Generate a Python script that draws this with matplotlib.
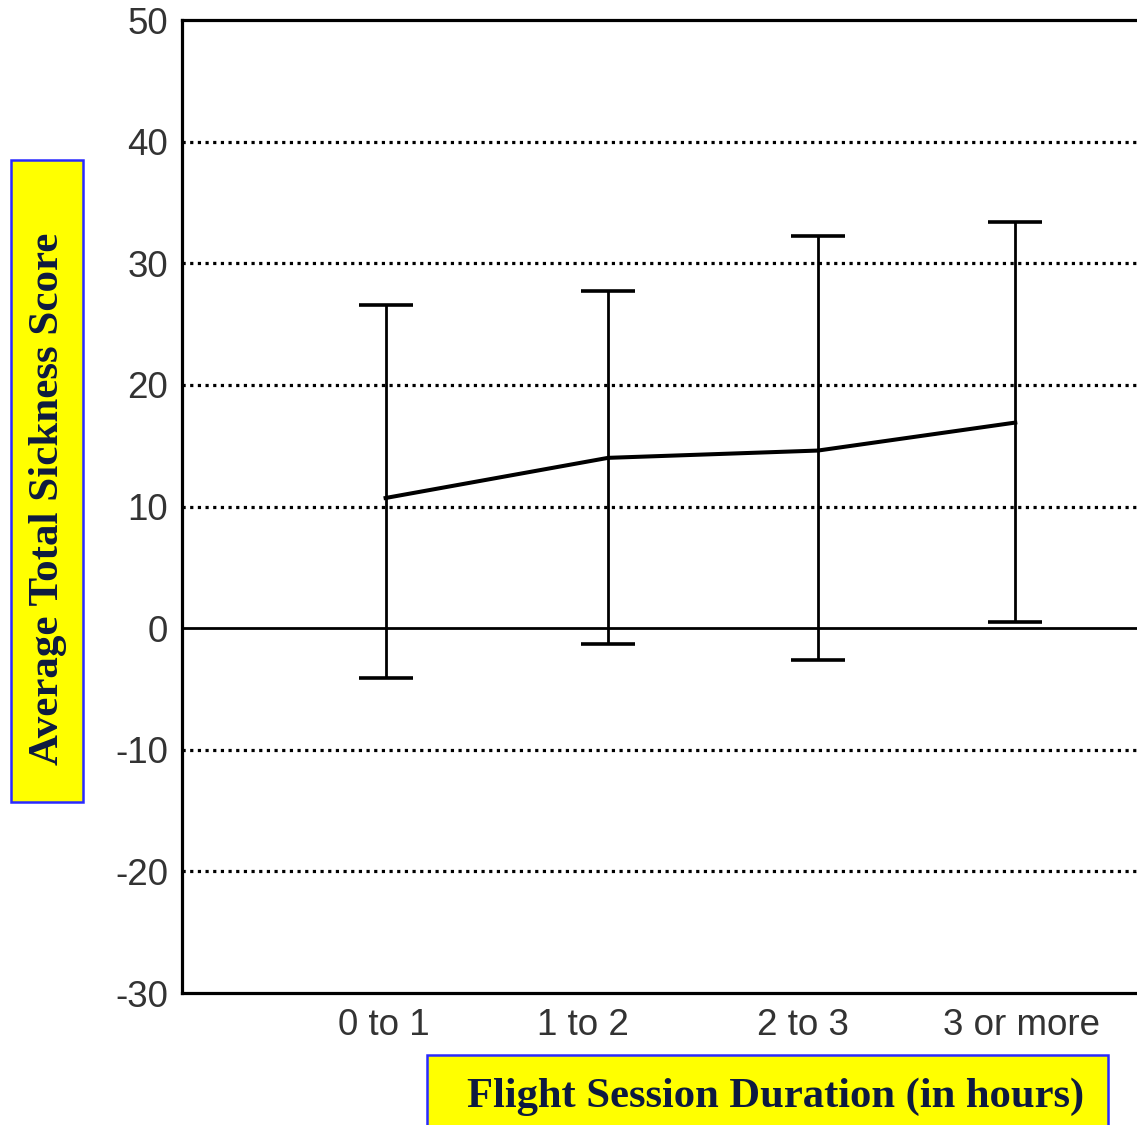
import matplotlib
matplotlib.use("Agg")
import matplotlib.pyplot as plt
from matplotlib.patches import Rectangle
import numpy as np

# ---- data ----
categories = ["0 to 1", "1 to 2", "2 to 3", "3 or more"]
mean_score = [10.7, 14.0, 14.6, 16.9]
upper_bound = [26.6, 27.7, 32.2, 33.4]
lower_bound = [-4.1, -1.3, -2.6, 0.5]
y_ticks = [-30, -20, -10, 0, 10, 20, 30, 40, 50]

# ---- layout ----
point_x = [0.97, 2.03, 3.03, 3.97]
label_x = [0.96, 1.91, 2.96, 4.00]

W, H = 1137, 1125
fig = plt.figure(figsize=(W / 100, H / 100), dpi=100)
ax = fig.add_axes([182 / W, 1 - 993 / H, 1 - 182 / W + 0.01, (993 - 20) / H])

ax.set_xlim(0, 4.55 * (1 + 0.01 * W / (W - 182)))
ax.set_ylim(-30, 50)

# gridlines
for yv in y_ticks:
    if yv in (0, 50, -30):
        continue
    ax.axhline(yv, color="black", lw=2.3, ls=(0, (1, 1.4)), zorder=1)
ax.axhline(0, color="black", lw=2.0, zorder=2)

mean = np.array(mean_score)
yerr = np.vstack([mean - np.array(lower_bound), np.array(upper_bound) - mean])
ax.errorbar(point_x, mean, yerr=yerr, fmt="none", ecolor="black",
            elinewidth=2.0, capsize=19.5, capthick=2.6, zorder=3)
ax.plot(point_x, mean, color="black", lw=2.9, zorder=4)

for s in ["top", "left", "bottom"]:
    ax.spines[s].set_linewidth(2.3)
ax.spines["right"].set_visible(False)

ax.set_yticks(y_ticks)
ax.set_yticklabels([str(v) for v in y_ticks])
ax.set_xticks(label_x)
ax.set_xticklabels(categories)
ax.tick_params(axis="y", length=0, labelsize=26.5, labelcolor="#333333", pad=10)
ax.tick_params(axis="x", length=0, labelsize=26.5, labelcolor="#333333", pad=11)
for lab in ax.get_xticklabels() + ax.get_yticklabels():
    lab.set_fontfamily(["Liberation Sans", "DejaVu Sans"])

# label boxes
fig.patches.append(Rectangle((11 / W, 1 - 802 / H), 72 / W, 642 / H,
                             transform=fig.transFigure, facecolor="#ffff00",
                             edgecolor="#2a2aff", lw=1.8, zorder=0))
fig.text(48 / W, 1 - 499 / H, "Average Total Sickness Score", rotation=90,
         ha="center", va="center", fontsize=31, fontweight="bold",
         family=["Liberation Serif", "DejaVu Serif"], color="#0d1a40")

fig.patches.append(Rectangle((427 / W, 1 - 1140 / H), 681 / W, 85 / H,
                             transform=fig.transFigure, facecolor="#ffff00",
                             edgecolor="#2a2aff", lw=1.8, zorder=0))
fig.text(776 / W, 1 - 1097 / H, "Flight Session Duration (in hours)",
         ha="center", va="center", fontsize=30.7, fontweight="bold",
         family=["Liberation Serif", "DejaVu Serif"], color="#0d1a40")

fig.savefig("out.png", dpi=100)
